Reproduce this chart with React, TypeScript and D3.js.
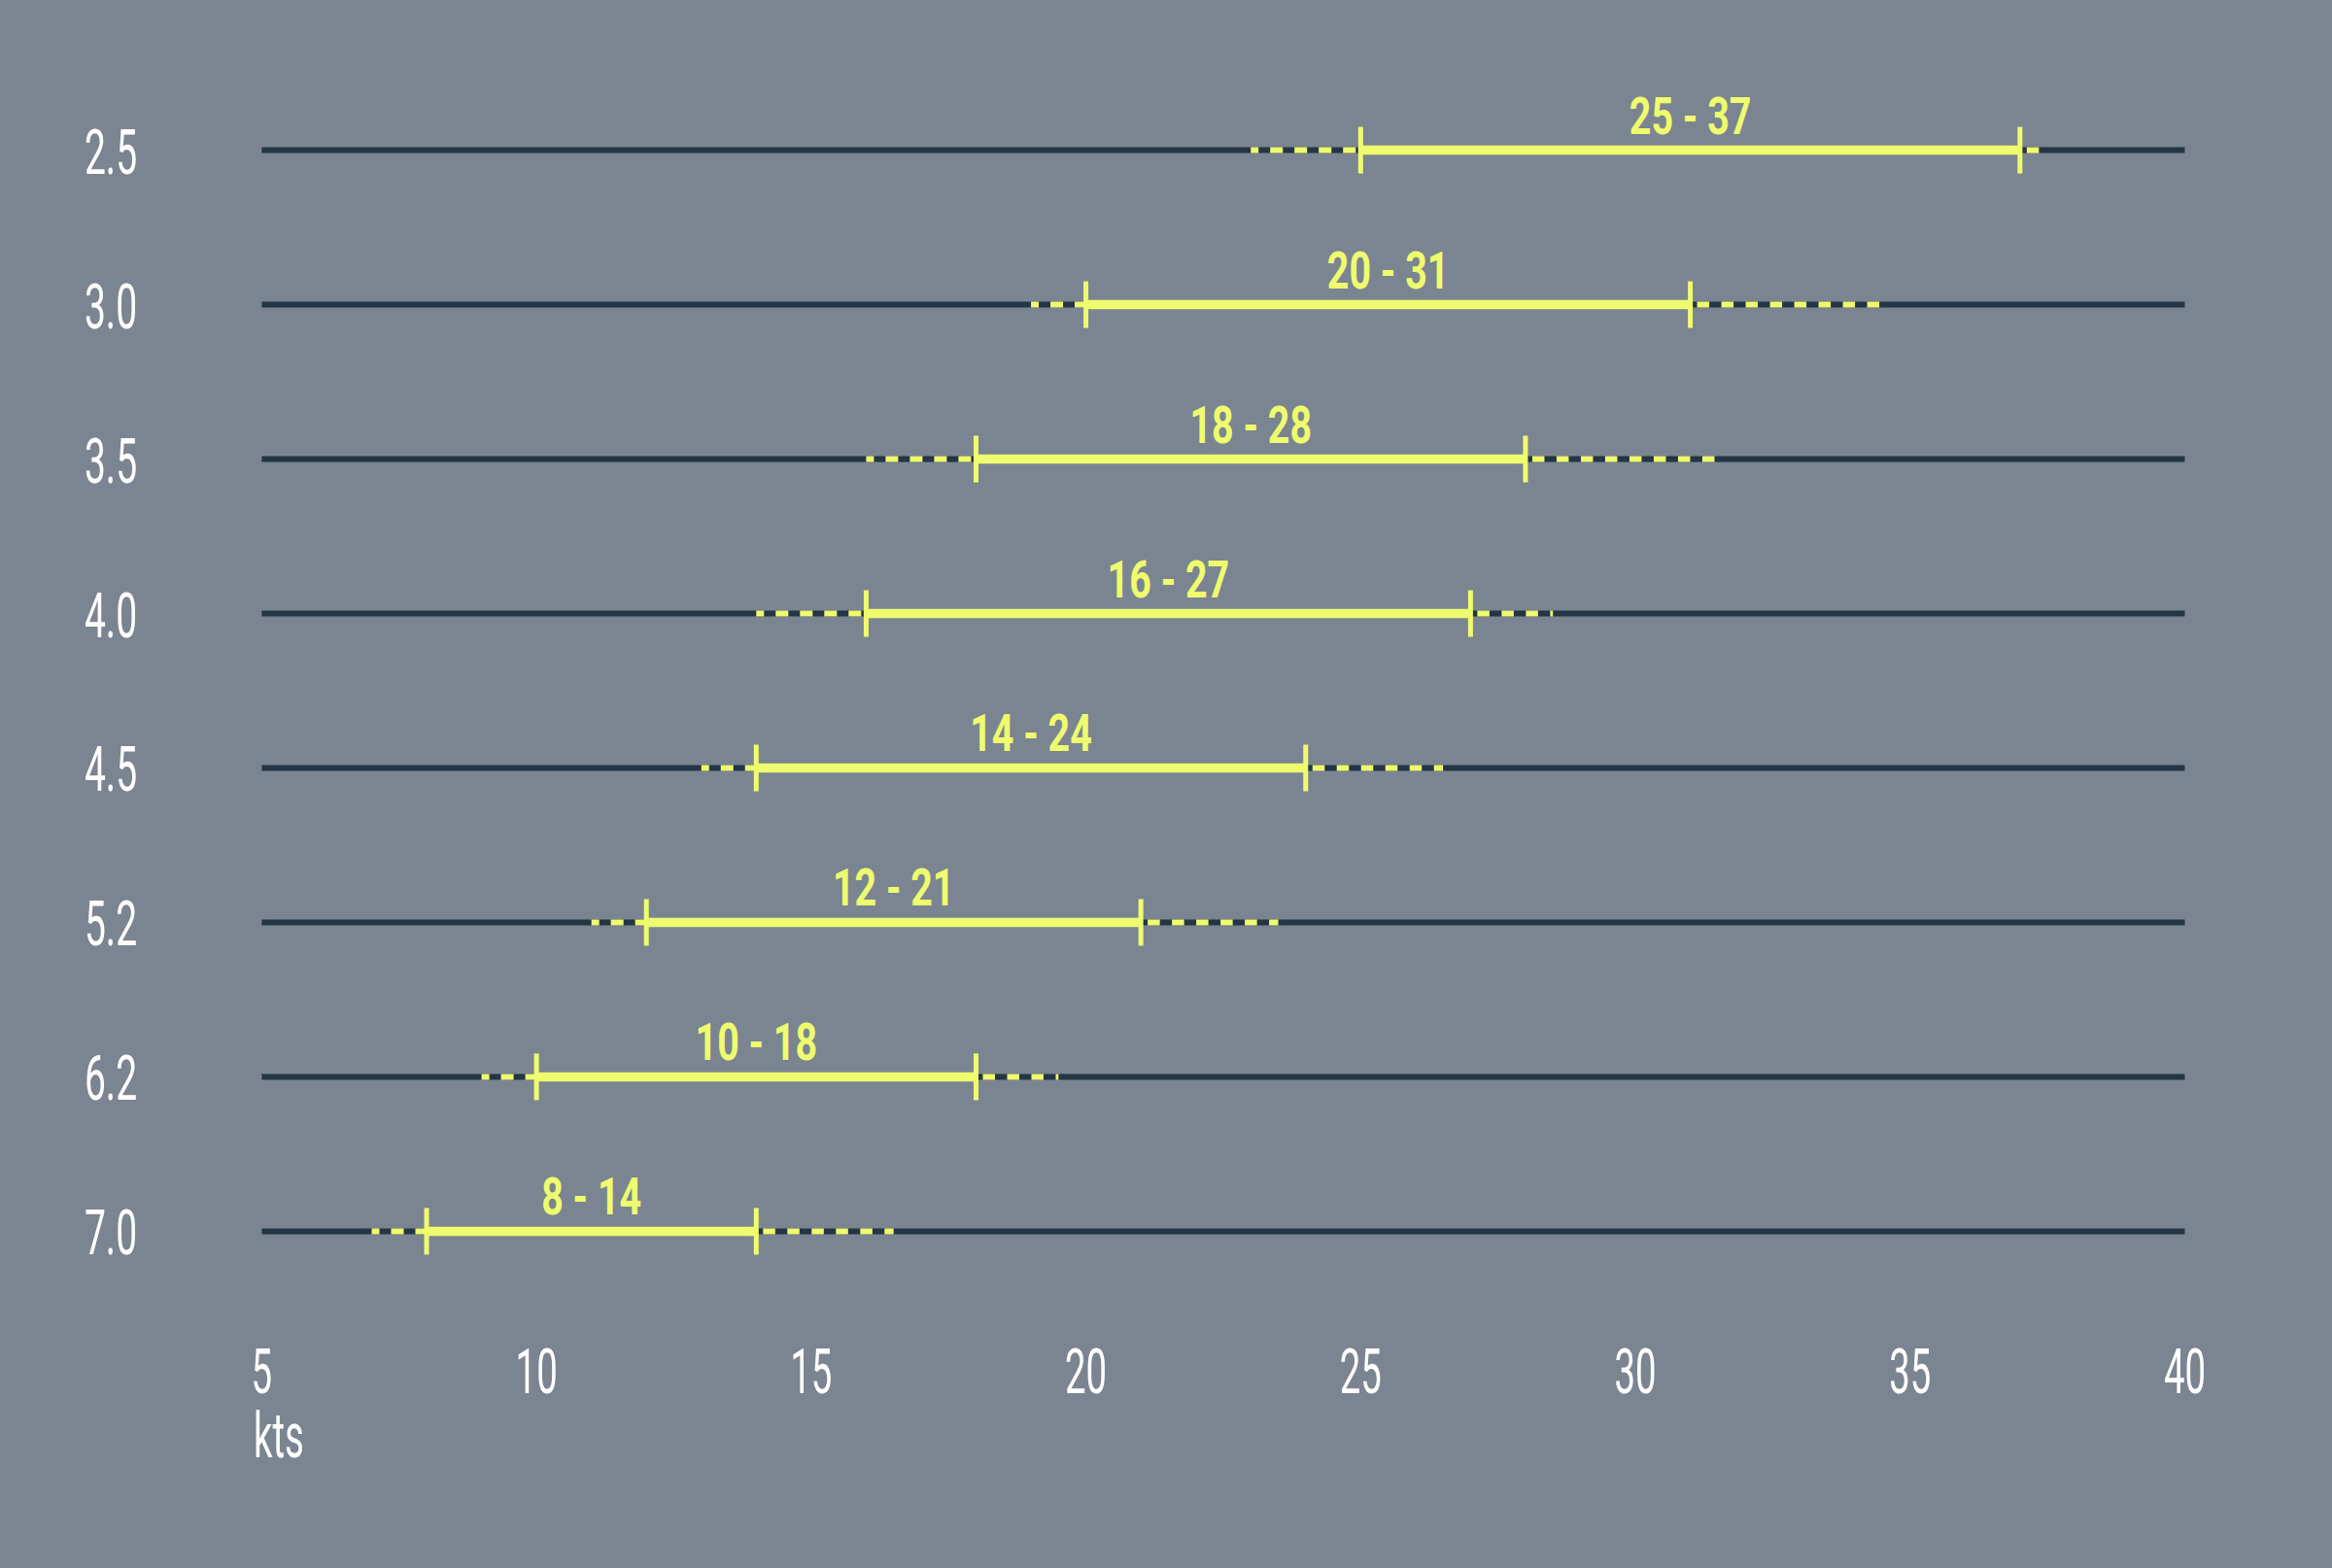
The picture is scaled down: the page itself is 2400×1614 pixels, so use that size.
import React from "react";
import * as d3 from "d3";

const rowLabels = ["2.5", "3.0", "3.5", "4.0", "4.5", "5.2", "6.2", "7.0"];
const rangeMin = [25, 20, 18, 16, 14, 12, 10, 8];
const rangeMax = [37, 31, 28, 27, 24, 21, 18, 14];
const extMin = [23, 19, 16, 14, 13, 11, 9, 7];
const extMax = [37.5, 34.5, 31.5, 28.5, 26.5, 23.5, 19.5, 16.5];
const xTicks = [5, 10, 15, 20, 25, 30, 35, 40];
const unitLabel = "kts";

const W = 2400;
const H = 1614;
const BG = "#7a8591";
const DARK = "#243646";
const YEL = "#effc6e";
const FONT = "Roboto, 'DejaVu Sans', sans-serif";

function CText({ x, y, sx, anchor, size, weight, fill, children }: any) {
  return (
    <text
      transform={`translate(${x},${y}) scale(${sx},1)`}
      textAnchor={anchor}
      fontSize={size}
      fontWeight={weight}
      fill={fill}
      fontFamily={FONT}
    >
      {children}
    </text>
  );
}

export default function App() {
  const x = d3.scaleLinear().domain([5, 40]).range([269.4, 2248.5]);
  const y = d3.scalePoint<string>().domain(rowLabels).range([154.6, 1267.4]);

  return (
    <svg
      width={W}
      height={H}
      style={{ position: "absolute", left: 0, top: 0, display: "block" }}
    >
      <rect x={0} y={0} width={W} height={H} fill={BG} />
      {rowLabels.map((lab, i) => {
        const yy = y(lab) as number;
        const a = x(rangeMin[i]);
        const b = x(rangeMax[i]);
        return (
          <g key={lab}>
            <CText x={114} y={yy + 24} sx={0.61} anchor="middle" size={64} weight={400} fill="#ffffff">
              {lab}
            </CText>
            <line x1={x(5)} x2={x(40)} y1={yy} y2={yy} stroke={DARK} strokeWidth={6} />
            <line
              x1={x(extMin[i])}
              x2={a}
              y1={yy}
              y2={yy}
              stroke={YEL}
              strokeWidth={6}
              strokeDasharray="13 12"
              strokeDashoffset={5}
            />
            <line
              x1={b}
              x2={x(extMax[i])}
              y1={yy}
              y2={yy}
              stroke={YEL}
              strokeWidth={6}
              strokeDasharray="12.5 12.5"
              strokeDashoffset={18}
            />
            <line x1={a} x2={b} y1={yy} y2={yy} stroke={YEL} strokeWidth={9.5} />
            <line x1={a} x2={a} y1={yy - 24} y2={yy + 24} stroke={YEL} strokeWidth={5} />
            <line x1={b} x2={b} y1={yy - 24} y2={yy + 24} stroke={YEL} strokeWidth={5} />
            <CText
              x={(a + b) / 2}
              y={yy - 17}
              sx={0.73}
              anchor="middle"
              size={54}
              weight={700}
              fill={YEL}
            >
              {`${rangeMin[i]} - ${rangeMax[i]}`}
            </CText>
          </g>
        );
      })}
      {xTicks.map((t) => (
        <CText key={t} x={x(t)} y={1434} sx={0.6} anchor="middle" size={64} weight={400} fill="#ffffff">
          {t}
        </CText>
      ))}
      <CText x={261} y={1500} sx={0.6} anchor="start" size={64} weight={400} fill="#ffffff">
        {unitLabel}
      </CText>
    </svg>
  );
}
